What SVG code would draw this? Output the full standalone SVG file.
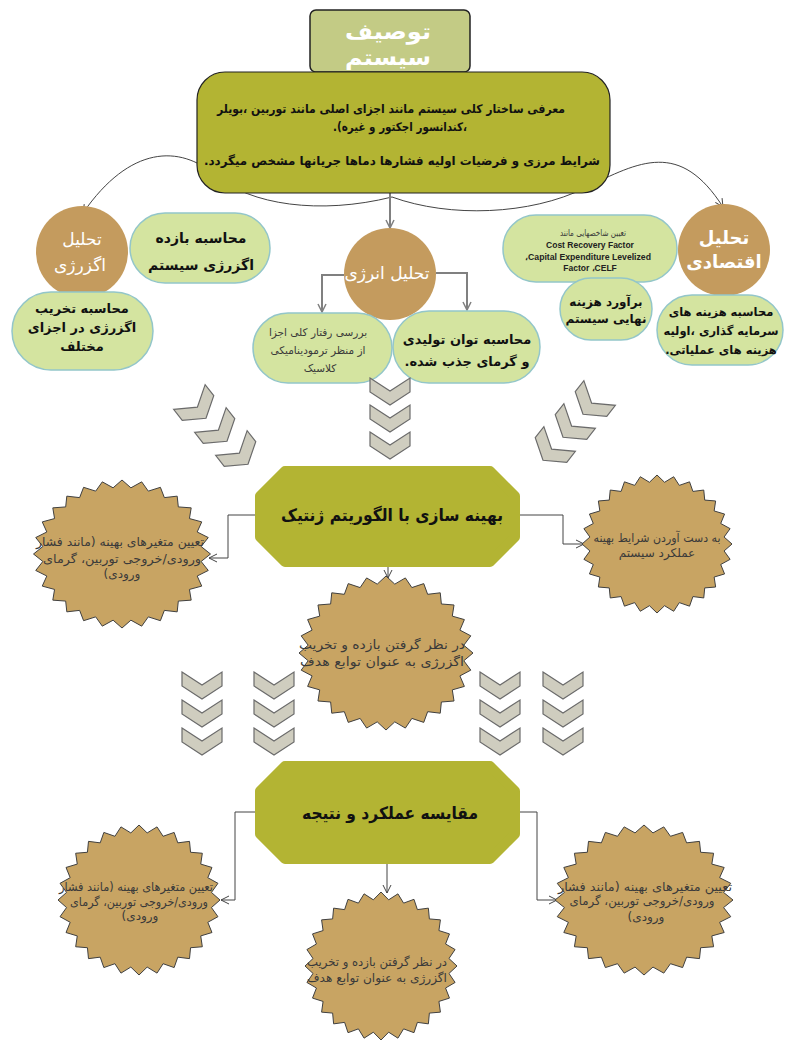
<svg xmlns="http://www.w3.org/2000/svg" xmlns:xlink="http://www.w3.org/1999/xlink" width="786" height="1043" viewBox="0 0 786 1043">
<style>
.fa{font-family:"DejaVu Sans","Noto Sans",sans-serif;direction:rtl;text-anchor:middle}
.b{font-weight:bold}
.w{fill:#ffffff}
.k{fill:#111111}
.g{fill:#3a3a3a}
.en{font-family:"Liberation Sans",Arial,sans-serif;font-weight:bold;text-anchor:middle;fill:#222;direction:ltr}
.pill{fill:#d4e4a0;stroke:#93c6c9;stroke-width:1.5}
.circ{fill:#c49b5e}
.green{fill:#b3b433;stroke:#b3b433;stroke-width:10;stroke-linejoin:round}
.star{fill:#c8a463;stroke:#404040;stroke-width:1}
.chev{fill:#cfcdbf;stroke:#6b6b6b;stroke-width:1.2}
.c1{fill:none;stroke:#444;stroke-width:1}
.c2{fill:none;stroke:#808080;stroke-width:2}
</style>
<defs>
<marker id="arr" markerWidth="12" markerHeight="12" refX="9" refY="5" orient="auto" markerUnits="userSpaceOnUse"><path d="M1,1 L9,5 L1,9" fill="none" stroke="#444" stroke-width="1"/></marker>
<marker id="arrG" markerWidth="12" markerHeight="12" refX="9" refY="5" orient="auto" markerUnits="userSpaceOnUse"><path d="M1,1 L9,5 L1,9" fill="none" stroke="#808080" stroke-width="1.5"/></marker>
<path id="starP" vector-effect="non-scaling-stroke" d="M0,-100 L10.08,-89.43 L22.25,-97.49 L29.73,-84.95 L43.39,-90.10 L47.88,-76.20 L62.35,-78.18 L63.64,-63.64 L78.18,-62.35 L76.20,-47.88 L90.10,-43.39 L84.95,-29.73 L97.49,-22.25 L89.43,-10.08 L100,0 L89.43,10.08 L97.49,22.25 L84.95,29.73 L90.10,43.39 L76.20,47.88 L78.18,62.35 L63.64,63.64 L62.35,78.18 L47.88,76.20 L43.39,90.10 L29.73,84.95 L22.25,97.49 L10.08,89.43 L0,100 L-10.08,89.43 L-22.25,97.49 L-29.73,84.95 L-43.39,90.10 L-47.88,76.20 L-62.35,78.18 L-63.64,63.64 L-78.18,62.35 L-76.20,47.88 L-90.10,43.39 L-84.95,29.73 L-97.49,22.25 L-89.43,10.08 L-100,0 L-89.43,-10.08 L-97.49,-22.25 L-84.95,-29.73 L-90.10,-43.39 L-76.20,-47.88 L-78.18,-62.35 L-63.64,-63.64 L-62.35,-78.18 L-47.88,-76.20 L-43.39,-90.10 L-29.73,-84.95 L-22.25,-97.49 L-10.08,-89.43 Z"/>
<polygon id="chevP" points="0,0 20,13 40,0 40,14 20,27 0,14"/>
</defs>

<!-- title -->
<g id="title">
<rect x="310" y="10" width="160" height="62" rx="6" fill="#c3cb85" stroke="#222" stroke-width="1.5"/>
<text class="fa b w" x="388" y="39" font-size="22" textLength="86" lengthAdjust="spacingAndGlyphs">توصیف</text>
<text class="fa b w" x="388" y="65" font-size="22" textLength="86" lengthAdjust="spacingAndGlyphs">سیستم</text>
</g>

<!-- connectors -->
<g id="connectors">
<path class="c1" d="M392,197 C320,215 250,205 215,175 S130,145 83,213" marker-end="url(#arr)"/>
<path class="c1" d="M392,197 C450,218 530,215 585,188 S680,140 723,207" marker-end="url(#arr)"/>
<path class="c2" d="M390,193 V228" marker-end="url(#arrG)"/>
<path class="c2" d="M344,275 H322 V312" marker-end="url(#arrG)"/>
<path class="c2" d="M436,273 H467 V310" marker-end="url(#arrG)"/>
<path class="c1" d="M255,515 H228 V558 H209" marker-end="url(#arr)"/>
<path class="c1" d="M520,515 H563 V544 H584" marker-end="url(#arr)"/>
<path class="c1" d="M388,565 V578" marker-end="url(#arr)"/>
<path class="c1" d="M255,812 H235 V900 H221" marker-end="url(#arr)"/>
<path class="c1" d="M520,812 H537 V900 H557" marker-end="url(#arr)"/>
<path class="c1" d="M387,862 V893" marker-end="url(#arr)"/>
</g>

<!-- main description box -->
<g id="desc">
<rect x="197" y="72" width="413" height="121" rx="28" fill="#b3b433" stroke="#222" stroke-width="1.2"/>
<text class="fa b k" x="391" y="113" font-size="12" textLength="348" lengthAdjust="spacingAndGlyphs">معرفی ساختار کلی سیستم مانند اجزای اصلی مانند توربین ،بویلر</text>
<text class="fa b k" x="400" y="131" font-size="12" textLength="134" lengthAdjust="spacingAndGlyphs">،کندانسور اجکتور و غیره).</text>
<text class="fa b k" x="402" y="165" font-size="12" textLength="396" lengthAdjust="spacingAndGlyphs">شرایط مرزی و فرضیات اولیه فشارها دماها جریانها مشخص میگردد.</text>
</g>

<!-- exergy -->
<g id="exergy">
<circle class="circ" cx="82" cy="252" r="46"/>
<text class="fa w" x="82" y="245" font-size="17">تحلیل</text>
<text class="fa w" x="80" y="271" font-size="17">اگزرژی</text>
</g>
<g id="exergy-eff">
<rect class="pill" x="130" y="213" width="140" height="70" rx="35"/>
<text class="fa b k" x="201" y="243" font-size="14">محاسبه بازده</text>
<text class="fa b k" x="201" y="270" font-size="14">اگزرژی سیستم</text>
</g>
<g id="exergy-dest">
<rect class="pill" x="12" y="292" width="141" height="78" rx="39"/>
<text class="fa b k" x="82" y="313" font-size="13">محاسبه تخریب</text>
<text class="fa b k" x="82" y="332" font-size="13">اگزرژی در اجزای</text>
<text class="fa b k" x="82" y="351" font-size="13">مختلف</text>
</g>

<!-- energy -->
<g id="energy">
<circle class="circ" cx="390" cy="274" r="46"/>
<text class="fa w" x="387" y="279" font-size="17">تحلیل انرژی</text>
</g>
<g id="energy-behav">
<rect class="pill" x="253" y="313" width="139" height="70" rx="35"/>
<text class="fa g" x="318" y="336" font-size="10.5">بررسی رفتار کلی اجزا</text>
<text class="fa g" x="318" y="354" font-size="10.5">از منظر ترمودینامیکی</text>
<text class="fa g" x="320" y="372" font-size="10.5">کلاسیک</text>
</g>
<g id="energy-power">
<rect class="pill" x="393" y="311" width="147" height="72" rx="36"/>
<text class="fa b k" x="467" y="344" font-size="13">محاسبه توان تولیدی</text>
<text class="fa b k" x="467" y="366" font-size="13">و گرمای جذب شده.</text>
</g>

<!-- economic -->
<g id="economic">
<circle class="circ" cx="724" cy="250" r="46"/>
<text class="fa b w" x="724" y="244" font-size="18">تحلیل</text>
<text class="fa b w" x="724" y="268" font-size="18">اقتصادی</text>
</g>
<g id="econ-index">
<rect class="pill" x="503" y="215" width="174" height="67" rx="33"/>
<text class="fa g" x="593" y="236" font-size="9" textLength="66" lengthAdjust="spacingAndGlyphs">تعیین شاخصهایی مانند</text>
<text class="en" x="590" y="248" font-size="8.5">Cost Recovery Factor</text>
<text class="en" x="588" y="260" font-size="8.5" textLength="126" lengthAdjust="spacingAndGlyphs">،Capital Expenditure Levelized</text>
<text class="en" x="590" y="271" font-size="8.5">Factor ،CELF</text>
</g>
<g id="econ-final">
<rect class="pill" x="560" y="278" width="92" height="62" rx="31"/>
<text class="fa b k" x="606" y="306" font-size="12">برآورد هزینه</text>
<text class="fa b k" x="606" y="323" font-size="12">نهایی سیستم</text>
</g>
<g id="econ-cost">
<rect class="pill" x="657" y="295" width="126" height="70" rx="35"/>
<text class="fa b k" x="721" y="316" font-size="11.5">محاسبه هزینه های</text>
<text class="fa b k" x="721" y="335" font-size="11.5">سرمایه گذاری ،اولیه</text>
<text class="fa b k" x="721" y="354" font-size="11.5">هزینه های عملیاتی.</text>
</g>

<!-- chevrons top -->
<g id="chevrons-top">
<use xlink:href="#chevP" class="chev" transform="translate(370,378)"/>
<use xlink:href="#chevP" class="chev" transform="translate(370,405)"/>
<use xlink:href="#chevP" class="chev" transform="translate(370,432)"/>
<use xlink:href="#chevP" class="chev" transform="translate(198,408) rotate(-38) translate(-20,-14)"/>
<use xlink:href="#chevP" class="chev" transform="translate(219,431) rotate(-38) translate(-20,-14)"/>
<use xlink:href="#chevP" class="chev" transform="translate(240,454) rotate(-38) translate(-20,-14)"/>
<use xlink:href="#chevP" class="chev" transform="translate(591,404) rotate(38) translate(-20,-14)"/>
<use xlink:href="#chevP" class="chev" transform="translate(571,427) rotate(38) translate(-20,-14)"/>
<use xlink:href="#chevP" class="chev" transform="translate(551,450) rotate(38) translate(-20,-14)"/>
</g>

<!-- genetic algorithm -->
<g id="ga">
<polygon class="green" points="285,471 490,471 515,496 515,537 490,562 285,562 260,537 260,496"/>
<text class="fa b k" x="392" y="521" font-size="17" textLength="222" lengthAdjust="spacingAndGlyphs">بهینه سازی با الگوریتم ژنتیک</text>
</g>
<g id="ga-vars">
<use xlink:href="#starP" class="star" transform="translate(122,554) scale(0.885,0.74)"/>
<text class="fa g" x="120" y="546" font-size="12" textLength="168" lengthAdjust="spacingAndGlyphs">تعیین متغیرهای بهینه (مانند فشار</text>
<text class="fa g" x="122" y="563" font-size="12" textLength="158" lengthAdjust="spacingAndGlyphs">ورودی/خروجی توربین، گرمای</text>
<text class="fa g" x="122" y="578" font-size="12">ورودی)</text>
</g>
<g id="ga-opt">
<use xlink:href="#starP" class="star" transform="translate(657,544) scale(0.75,0.69)"/>
<text class="fa g" x="657" y="542" font-size="12" textLength="127" lengthAdjust="spacingAndGlyphs">به دست آوردن شرایط بهینه</text>
<text class="fa g" x="657" y="557" font-size="12">عملکرد سیستم</text>
</g>
<g id="ga-obj">
<use xlink:href="#starP" class="star" transform="translate(386,653) scale(0.87,0.77)"/>
<text class="fa g" x="382" y="649" font-size="12.5" textLength="166" lengthAdjust="spacingAndGlyphs">در نظر گرفتن بازده و تخریب</text>
<text class="fa g" x="382" y="666" font-size="12.5" textLength="164" lengthAdjust="spacingAndGlyphs">اگزرژی به عنوان توابع هدف</text>
</g>

<!-- chevrons middle -->
<g id="chevrons-mid">
<use xlink:href="#chevP" class="chev" transform="translate(182,672)"/>
<use xlink:href="#chevP" class="chev" transform="translate(182,700)"/>
<use xlink:href="#chevP" class="chev" transform="translate(182,728)"/>
<use xlink:href="#chevP" class="chev" transform="translate(254,672)"/>
<use xlink:href="#chevP" class="chev" transform="translate(254,700)"/>
<use xlink:href="#chevP" class="chev" transform="translate(254,728)"/>
<use xlink:href="#chevP" class="chev" transform="translate(480,672)"/>
<use xlink:href="#chevP" class="chev" transform="translate(480,700)"/>
<use xlink:href="#chevP" class="chev" transform="translate(480,728)"/>
<use xlink:href="#chevP" class="chev" transform="translate(543,672)"/>
<use xlink:href="#chevP" class="chev" transform="translate(543,700)"/>
<use xlink:href="#chevP" class="chev" transform="translate(543,728)"/>
</g>

<!-- comparison -->
<g id="result">
<polygon class="green" points="285,766 490,766 515,791 515,834 490,859 285,859 260,834 260,791"/>
<text class="fa b k" x="390" y="819" font-size="17" textLength="176" lengthAdjust="spacingAndGlyphs">مقایسه عملکرد و نتیجه</text>
</g>
<g id="res-vars-left">
<use xlink:href="#starP" class="star" transform="translate(139,900) scale(0.81,0.75)"/>
<text class="fa g" x="136" y="891" font-size="12" textLength="154" lengthAdjust="spacingAndGlyphs">تعیین متغیرهای بهینه (مانند فشار</text>
<text class="fa g" x="139" y="906" font-size="12" textLength="138" lengthAdjust="spacingAndGlyphs">ورودی/خروجی توربین، گرمای</text>
<text class="fa g" x="140" y="920" font-size="12">ورودی)</text>
</g>
<g id="res-vars-right">
<use xlink:href="#starP" class="star" transform="translate(644,900) scale(0.89,0.75)"/>
<text class="fa g" x="645" y="891" font-size="12" textLength="174" lengthAdjust="spacingAndGlyphs">تعیین متغیرهای بهینه (مانند فشار</text>
<text class="fa g" x="642" y="905" font-size="12" textLength="145" lengthAdjust="spacingAndGlyphs">ورودی/خروجی توربین، گرمای</text>
<text class="fa g" x="646" y="921" font-size="12">ورودی)</text>
</g>
<g id="res-obj">
<use xlink:href="#starP" class="star" transform="translate(381,966) scale(0.76,0.74)"/>
<text class="fa g" x="377" y="966" font-size="12" textLength="140" lengthAdjust="spacingAndGlyphs">در نظر گرفتن بازده و تخریب</text>
<text class="fa g" x="377" y="982" font-size="12" textLength="140" lengthAdjust="spacingAndGlyphs">اگزرژی به عنوان توابع هدف</text>
</g>
</svg>
